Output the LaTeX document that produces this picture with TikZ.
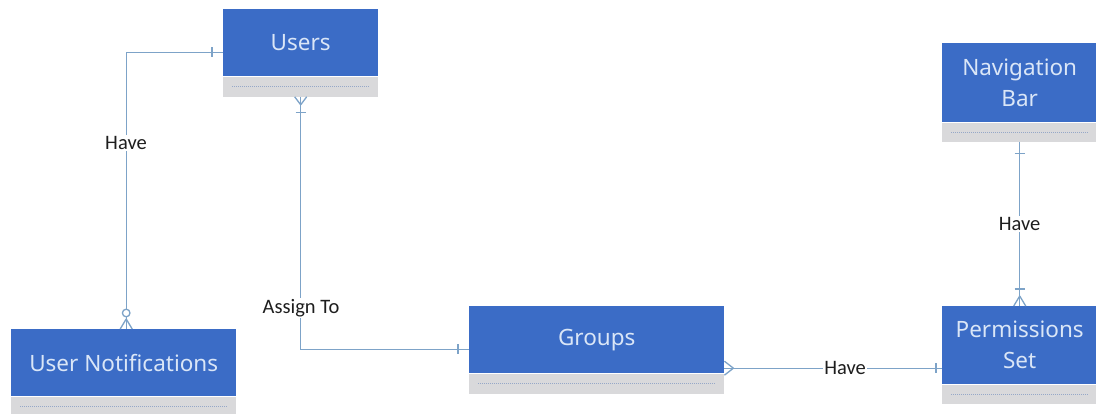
\documentclass[tikz,border=0pt]{standalone}
\usepackage{fontspec}
\setmainfont{Noto Sans}
\newfontfamily\lblfont{Carlito}
\definecolor{boxblue}{RGB}{59,108,198}
\definecolor{boxtext}{RGB}{218,230,247}
\definecolor{stripgray}{RGB}{217,217,219}
\definecolor{dotblue}{RGB}{150,168,200}
\definecolor{connblue}{RGB}{125,163,200}
\definecolor{lbltext}{RGB}{30,30,30}
\begin{document}
\begin{tikzpicture}[x=1pt,y=-1pt,
  title/.style={fill=boxblue, text=boxtext, inner sep=0pt, anchor=north west,
    align=center, font=\fontsize{22.5}{31}\selectfont},
  strip/.style={fill=stripgray, inner sep=0pt, anchor=north west, minimum height=20pt,
    path picture={\draw[dotblue, line width=0.8pt, dash pattern=on 1.2pt off 0.8pt]
      ([xshift=9pt]path picture bounding box.west) -- ([xshift=-9pt]path picture bounding box.east);}},
  conn/.style={draw=connblue, line width=1.3pt},
  lbl/.style={fill=white, inner sep=1pt, text=lbltext, font=\lblfont\fontsize{20.5}{22}\selectfont}
]
\useasboundingbox (0,0) rectangle (1096,414);
\fill[white] (0,0) rectangle (1096,414);

% entities
\node[title, minimum width=155pt, minimum height=67pt] (users) at (223,9) {Users};
\node[strip, minimum width=155pt] (usersS) at (users.south west) {};

\node[title, minimum width=225pt, minimum height=67pt] (notif) at (11,329) {User Notifications};
\node[strip, minimum width=225pt] (notifS) at (notif.south west) {};

\node[title, minimum width=255pt, minimum height=67pt] (groups) at (469,306) {Groups};
\node[strip, minimum width=255pt] (groupsS) at (groups.south west) {};

\node[title, minimum width=155pt, minimum height=78pt] (perms) at (942,306) {Permissions\\Set};
\node[strip, minimum width=155pt, minimum height=19pt] (permsS) at (perms.south west) {};

\node[title, minimum width=155pt, minimum height=79pt] (nav) at (942,43) {Navigation\\Bar};
\node[strip, minimum width=155pt, minimum height=19pt] (navS) at (nav.south west) {};

% connector coordinates
\coordinate (uW) at ([yshift=-9.5pt]users.west);
\coordinate (nN) at ([xshift=2.5pt]notif.north);
\coordinate (gW) at ([yshift=-9.5pt]groups.west);
\coordinate (gE) at ([yshift=-28.5pt]groups.east);
\coordinate (pN) at (perms.north);

% Users -- User Notifications
\draw[conn] (uW) -| (nN);
\draw[conn] (uW) ++(-11,-5) -- ++(0,10);
\draw[conn] (nN) ++(0,-10) -- ++(-6,10) (nN) ++(0,-10) -- ++(6,10);
\draw[conn, fill=white] (nN) ++(0,-16) circle[radius=3.8pt];

% Users -- Groups
\draw[conn] (usersS.south) |- (gW);
\draw[conn] (usersS.south) ++(0,8) -- ++(-6,-8) (usersS.south) ++(0,8) -- ++(6,-8);
\draw[conn] (usersS.south) ++(-5,16) -- ++(10,0);
\draw[conn] (gW) ++(-11,-5) -- ++(0,10);

% Groups -- Permissions Set
\draw[conn] (gE) -- (gE -| perms.west);
\draw[conn] (gE) ++(9,0) -- ++(-9,-7) (gE) ++(9,0) -- ++(-9,7);
\draw[conn] (gE -| perms.west) ++(-6,-5) -- ++(0,10);

% Navigation Bar -- Permissions Set
\draw[conn] (navS.south) -- (pN);
\draw[conn] (navS.south) ++(-5,12) -- ++(10,0);
\draw[conn] (pN) ++(-5,-17) -- ++(10,0);
\draw[conn] (pN) ++(0,-10) -- ++(-6,10) (pN) ++(0,-10) -- ++(6,10);

% labels
\node[lbl] (l1) at (126,143) {Have};
\node[lbl] (l2) at (301,308) {Assign To};
\node[lbl] (l3) at (845,368) {Have};
\node[lbl] (l4) at (1019.5,224) {Have};
\end{tikzpicture}
\end{document}
